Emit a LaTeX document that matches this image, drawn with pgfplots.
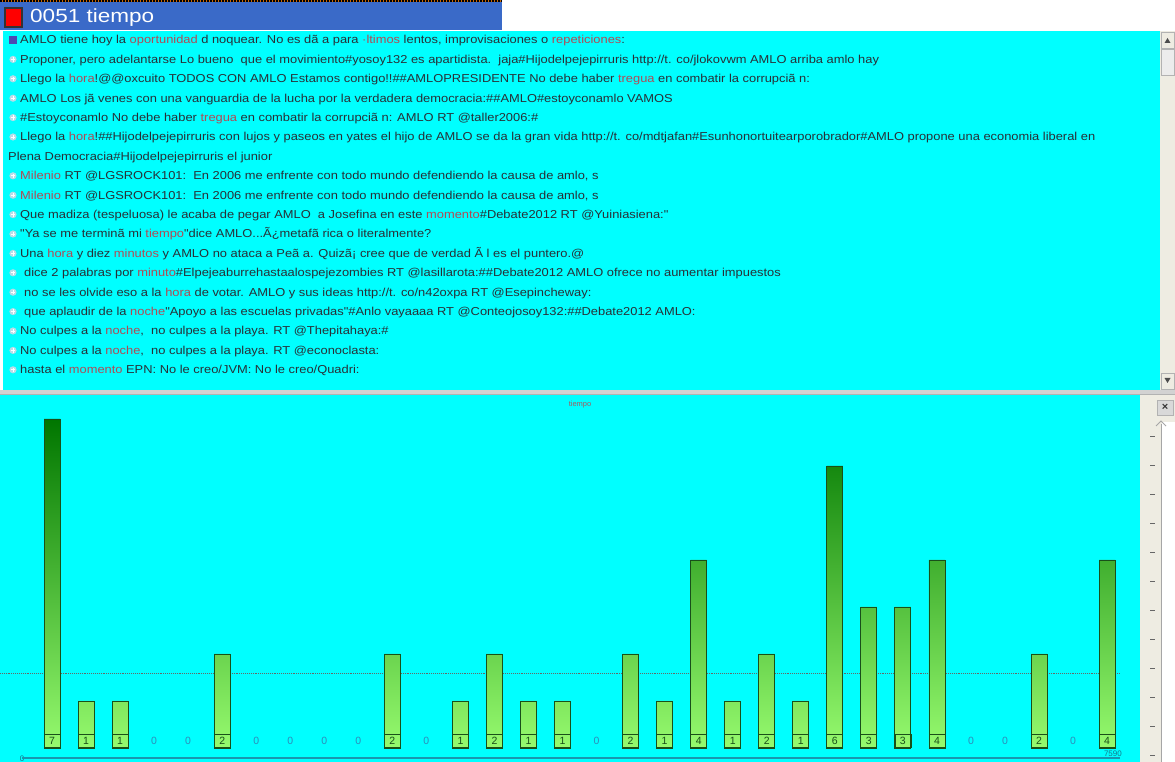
\documentclass[border=0pt]{standalone}
\usepackage{pgfplots}
\pgfplotsset{compat=1.18}
\usepackage{pgfplotstable}
\usepackage{fontspec}
\setmainfont{Liberation Sans}
\newfontfamily\scr[FakeStretch=1.12]{Liberation Sans}
\usepackage{graphicx}
\definecolor{cy}{RGB}{0,255,255}
\definecolor{titleblue}{RGB}{58,106,200}
\definecolor{kw}{RGB}{175,75,85}
\definecolor{txt}{RGB}{40,48,55}
\definecolor{zerolab}{RGB}{45,140,185}
\definecolor{bardark}{RGB}{0,118,0}
\definecolor{barlight}{RGB}{150,250,110}
\definecolor{baredge}{RGB}{25,80,25}
\definecolor{panelgray}{RGB}{238,236,226}
\definecolor{axteal}{RGB}{25,150,175}
\definecolor{iconfill}{RGB}{185,220,232}

\pgfplotstableread{
x v
0 7
1 1
2 1
3 0
4 0
5 2
6 0
7 0
8 0
9 0
10 2
11 0
12 1
13 2
14 1
15 1
16 0
17 2
18 1
19 4
20 1
21 2
22 1
23 6
24 3
25 3
26 4
27 0
28 0
29 2
30 0
31 4
}\tiempo

\newcommand{\kw}[1]{\textcolor{kw}{#1}}
\newcommand{\fsz}{\scr\fontsize{11.5}{13}\selectfont}
% #1 start x, #2 baseline y, #3 text
\newcommand{\tl}[3]{\node[anchor=base west, inner sep=0pt, text=txt, font=\fsz] at (#1,#2) {#3};}

\begin{document}
\begin{tikzpicture}[x=1pt,y=1pt]
\useasboundingbox (0,0) rectangle (1175,762);
\fill[white] (0,0) rectangle (1175,762);

% title bar
\fill[titleblue] (0,732) rectangle (502,760);
\draw[orange!80!black, line width=2pt] (0,761) -- (502,761);
\draw[black, line width=2pt, dash pattern=on 1.5pt off 1.5pt] (0,761) -- (502,761);
\fill[black!80] (4,734) rectangle (23,755);
\fill[red] (6,736) rectangle (21,753);
\node[anchor=base west, inner sep=0pt, text=white, font=\fontsize{19}{20}\selectfont] at (30,739) {\resizebox{124pt}{\height}{0051 tiempo}};

% text panel
\fill[cy] (3,372) rectangle (1160,731);
\fill[panelgray] (1160,372) rectangle (1175,731);
\draw[gray!60] (1161,714) rectangle (1174,730);
\fill[black!70] (1164.5,719) -- (1170.5,719) -- (1167.5,724) -- cycle;
\fill[gray!15] (1161,687) rectangle (1174,713);
\draw[gray!60] (1161,687) rectangle (1174,713);
\draw[gray!60] (1161,373) rectangle (1174,389);
\fill[black!70] (1164.5,384) -- (1170.5,384) -- (1167.5,379) -- cycle;

% icons
\foreach \k in {0,1,2,3,4,5,7,8,9,10,11,12,13,14,15,16,17}{
  \fill[iconfill] (13,{722-19.4*\k}) circle (3.6);
  \draw[white, line width=0.9pt] (10.8,{722-19.4*\k}) -- (15.2,{722-19.4*\k});
  \draw[white, line width=0.9pt] (13,{719.8-19.4*\k}) -- (13,{724.2-19.4*\k});
}
\fill[blue!40!gray] (9,718) rectangle (17,726);

% text lines (baseline = 718 - 19.4 k)
\tl{20}{718}{AMLO tiene hoy la \kw{oportunidad} d noquear. No es dã a para \kw{·ltimos} lentos, improvisaciones o \kw{repeticiones}:}
\tl{20}{698.6}{Proponer, pero adelantarse Lo bueno\ \ que el movimiento\#yosoy132 es apartidista.\ \ jaja\#Hijodelpejepirruris http://t. co/jlokovwm AMLO\ arriba amlo hay}
\tl{20}{679.2}{Llego la \kw{hora}!@@oxcuito TODOS CON AMLO Estamos contigo!!\#\#AMLOPRESIDENTE No debe haber \kw{tregua} en combatir la corrupciã n:}
\tl{20}{659.8}{AMLO Los jã venes con una vanguardia de la lucha por la verdadera democracia:\#\#AMLO\#estoyconamlo VAMOS}
\tl{20}{640.4}{\#Estoyconamlo No debe haber \kw{tregua} en combatir la corrupciã n: AMLO RT @taller2006:\#}
\tl{20}{621}{Llego la \kw{hora}!\#\#Hijodelpejepirruris con lujos y paseos en yates el hijo de AMLO se da la gran vida http://t. co/mdtjafan\#Esunhonortuitearporobrador\#AMLO propone una economia liberal en}
\tl{8}{601.6}{Plena Democracia\#Hijodelpejepirruris el junior}
\tl{20}{582.2}{\kw{Milenio} RT @LGSROCK101:\ \ En 2006 me enfrente con todo mundo defendiendo la causa de amlo, s}
\tl{20}{562.8}{\kw{Milenio} RT @LGSROCK101:\ \ En 2006 me enfrente con todo mundo defendiendo la causa de amlo, s}
\tl{20}{543.4}{Que madiza (tespeluosa) le acaba de pegar AMLO\ \ a Josefina en este \kw{momento}\#Debate2012 RT @Yuiniasiena:"}
\tl{20}{524}{"Ya se me terminã mi \kw{tiempo}"dice AMLO...Ã¿metafã rica o literalmente?}
\tl{20}{504.6}{Una \kw{hora} y diez \kw{minutos} y AMLO no ataca a Peã a. Quizã¡ cree que de verdad Ã l es el puntero.@}
\tl{24}{485.2}{dice 2 palabras por \kw{minuto}\#Elpejeaburrehastaalospejezombies RT @lasillarota:\#\#Debate2012 AMLO ofrece no aumentar impuestos}
\tl{24}{465.8}{no se les olvide eso a la \kw{hora} de votar. AMLO y sus ideas http://t. co/n42oxpa RT @Esepincheway:}
\tl{24}{446.4}{que aplaudir de la \kw{noche}"Apoyo a las escuelas privadas"\#Anlo vayaaaa RT @Conteojosoy132:\#\#Debate2012 AMLO:}
\tl{20}{427}{No culpes a la \kw{noche},\ \ no culpes a la playa. RT @Thepitahaya:\#}
\tl{20}{407.6}{No culpes a la \kw{noche},\ \ no culpes a la playa. RT @econoclasta:}
\tl{20}{388.2}{hasta el \kw{momento} EPN: No le creo/JVM: No le creo/Quadri:}

% separator
\fill[gray!35] (0,367) rectangle (1175,372);
\draw[gray!60] (0,367.5) -- (1175,367.5);

% chart panel
\fill[cy] (0,0) rectangle (1140,367);
\fill[panelgray] (1140,0) rectangle (1175,367);
\fill[white] (1162,0) rectangle (1175,340);
\draw[gray!70, line width=1pt] (1161,0) -- (1161,338);
\draw[gray!70, line width=0.8pt] (1156,336) -- (1161,341) -- (1166,336);
\foreach \t in {0,...,11}{
  \draw[black!60, line width=0.8pt] ({1150},{326-29*\t}) -- ({1155},{326-29*\t});
}
\fill[gray!30] (1157,347) rectangle (1173,362);
\draw[gray!60] (1157,347) rectangle (1173,362);
\node[font=\fontsize{11}{11}\selectfont\bfseries, text=black!80, inner sep=0pt] at (1165,354.5) {×};

\node[font=\fontsize{7.5}{7.5}\selectfont, text=kw!70!gray, inner sep=0pt] at (580,357) {tiempo};
\node[font=\fontsize{8}{8}\selectfont, text=axteal!80!black, inner sep=0pt] at (22,3) {0};
\node[font=\fontsize{8}{8}\selectfont, text=axteal!80!black, inner sep=0pt, anchor=south east] at (1122,5) {7590};

\begin{axis}[
  at={(22pt,4pt)}, anchor=south west,
  scale only axis, width=1098pt, height=358pt,
  xmin=-0.8816, xmax=31.38, ymin=-0.213, ymax=7.404,
  hide axis, clip=false,
  /pgf/number format/assume math mode=true,
]
\draw[axteal, line width=2pt] (axis cs:-0.8816,-0.213) -- (axis cs:31.38,-0.213);
\addplot[densely dotted, line width=0.9pt, color=black!60] coordinates {(-1.53,1.594) (31.38,1.594)};
\addplot[ybar, bar width=16pt, draw=baredge, line width=0.8pt,
  top color=bardark, bottom color=barlight,
  restrict y to domain=0.5:100] table[x=x, y=v] {\tiempo};
\addplot[only marks, mark=none, point meta=\thisrow{v},
  restrict expr to domain={\thisrow{v}}{0.5:100},
  nodes near coords={\pgfmathprintnumber{\pgfplotspointmeta}},
  every node near coord/.style={anchor=south, draw=baredge, line width=0.7pt,
    minimum width=16pt, minimum height=13pt, inner sep=0pt,
    font=\fontsize{10.5}{10.5}\selectfont, text=baredge}]
  table[x=x, y expr=0] {\tiempo};
\addplot[only marks, mark=none, point meta=\thisrow{v},
  restrict expr to domain={\thisrow{v}}{-0.5:0.5},
  nodes near coords={\pgfmathprintnumber{\pgfplotspointmeta}},
  every node near coord/.style={anchor=south,
    minimum height=13pt, inner sep=0pt,
    font=\fontsize{10.5}{10.5}\selectfont, text=zerolab}]
  table[x=x, y expr=0] {\tiempo};
\end{axis}
\end{tikzpicture}
\end{document}
